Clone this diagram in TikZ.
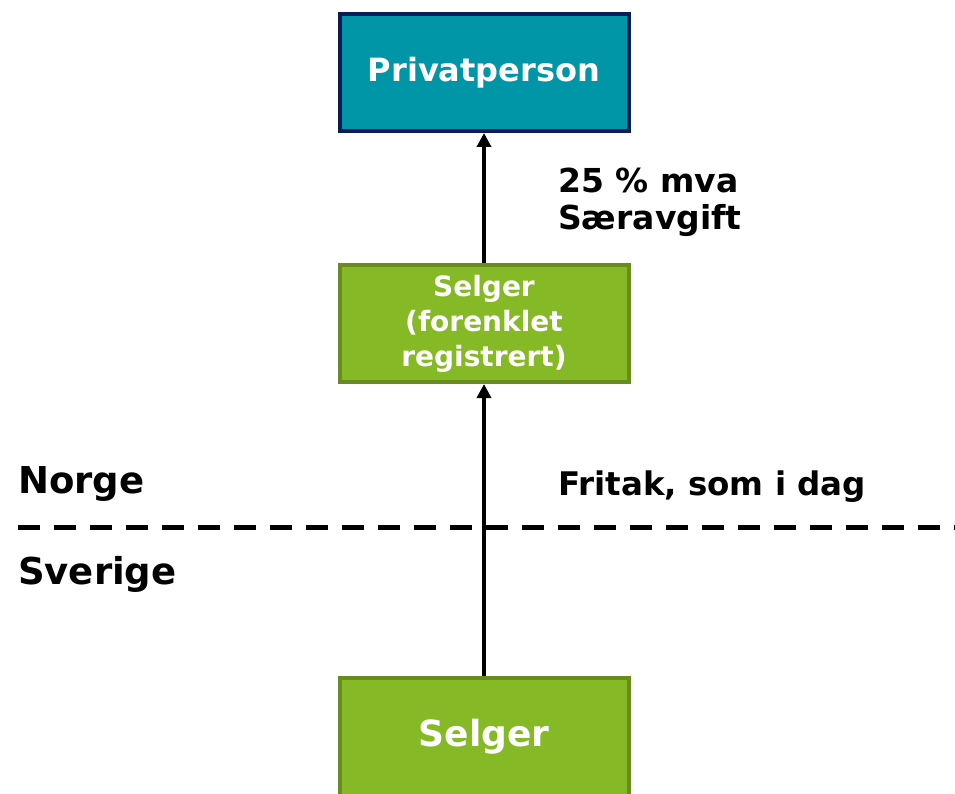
\documentclass[tikz,border=0pt]{standalone}
\usepackage{fontspec}
\setmainfont{DejaVu Sans}
\usetikzlibrary{arrows.meta}
\definecolor{tealfill}{RGB}{0,150,168}
\definecolor{navyline}{RGB}{10,30,85}
\definecolor{greenfill}{RGB}{134,185,38}
\definecolor{greenline}{RGB}{104,140,30}
\tikzset{
  box/.style={draw, line width=4pt, minimum width=289pt, minimum height=117pt, inner sep=0pt, align=center, text=white, font=\bfseries},
  privbox/.style={box, fill=tealfill, draw=navyline},
  selgbox/.style={box, fill=greenfill, draw=greenline},
  lbl/.style={font=\bfseries, text=black, inner sep=0pt, align=left},
  conn/.style={line width=4.5pt, -{Triangle[width=14pt,length=14pt]}},
  border/.style={line width=5pt, dash pattern=on 22pt off 14pt}
}
\begin{document}
\begin{tikzpicture}[x=1pt,y=-1pt]
\clip (0,0) rectangle (955,794);
\useasboundingbox (0,0) rectangle (955,794);
\node[privbox, font=\bfseries\fontsize{32}{36}\selectfont] (priv) at (484,72.5) {Privatperson};
\node[selgbox, font=\bfseries\fontsize{28}{35}\selectfont] (mid) at (484,323.5) {Selger\\(forenklet\\registrert)};
\node[selgbox, minimum height=125pt] (bot) at (484,740) {};
\node[text=white, font=\bfseries\fontsize{36}{40}\selectfont, inner sep=0pt] (bottxt) at (484,737) {Selger};
\coordinate (dl) at (18,527);
\coordinate (dr) at (960,527);
\draw[border] (dl) -- (dr);
\draw[conn] (mid.north) -- (priv.south);
\draw[conn] (bot.north) -- (mid.south);
\node[lbl, anchor=west, font=\bfseries\fontsize{33}{37}\selectfont] (tax) at (558,202) {25 \% mva\\Særavgift};
\node[lbl, anchor=west, font=\bfseries\fontsize{32.5}{36}\selectfont] (fritak) at (558,487) {Fritak, som i dag};
\node[lbl, anchor=west, font=\bfseries\fontsize{37}{40}\selectfont] (norge) at (18,484) {Norge};
\node[lbl, anchor=west, font=\bfseries\fontsize{37}{40}\selectfont] (sverige) at (18,574) {Sverige};
\end{tikzpicture}
\end{document}
